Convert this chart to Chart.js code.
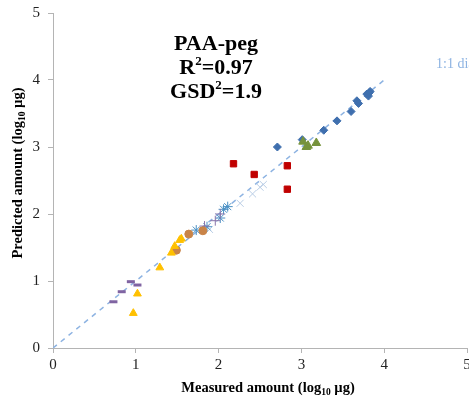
<!DOCTYPE html>
<html>
<head>
<meta charset="utf-8">
<script src="https://cdn.jsdelivr.net/npm/chart.js@4/dist/chart.umd.min.js"></script>
<style>
  html, body { margin: 0; padding: 0; background: #fff; overflow: hidden; }
  #wrap { position: relative; width: 500px; height: 403px; }
</style>
</head>
<body>
<div id="wrap"><canvas id="chart"></canvas></div>
<script>
// measured / predicted pairs (log10 µg), one pair of arrays per group
const blueDiamondX = [2.71, 3.01, 3.27, 3.43, 3.60, 3.67, 3.69, 3.79, 3.81, 3.82, 3.83];
const blueDiamondY = [3.00, 3.11, 3.25, 3.39, 3.53, 3.69, 3.65, 3.79, 3.76, 3.81, 3.83];
const greenTriX = [3.02, 3.06, 3.08, 3.18];
const greenTriY = [3.08, 3.00, 3.02, 3.06];
const redSquareX = [2.18, 2.43, 2.83, 2.83];
const redSquareY = [2.75, 2.59, 2.72, 2.37];
const paleCrossX = [1.89, 2.00, 2.26, 2.41, 2.50, 2.54];
const paleCrossY = [1.77, 1.96, 2.16, 2.30, 2.40, 2.44];
const starX = [1.73, 1.86, 2.02, 2.06, 2.11];
const starY = [1.76, 1.81, 1.94, 2.07, 2.11];
const purplePlusX = [1.83, 1.96, 2.02];
const purplePlusY = [1.82, 1.90, 2.00];
const orangeCircleX = [1.49, 1.64, 1.81];
const orangeCircleY = [1.46, 1.70, 1.75];
const yellowTriX = [0.97, 1.02, 1.29, 1.43, 1.47, 1.53, 1.55];
const yellowTriY = [0.52, 0.81, 1.20, 1.42, 1.52, 1.61, 1.63];
const purpleDashX = [0.73, 0.83, 0.94, 1.02];
const purpleDashY = [0.69, 0.84, 0.99, 0.94];
const diagonal = [0, 4];
const tickValues = [0, 1, 2, 3, 4, 5];

const pts = (xs, ys) => xs.map((x, i) => ({ x: x, y: ys[i] }));

function series(xs, ys, style, color, radius, extra) {
    return Object.assign({
        data: pts(xs, ys),
        pointStyle: style,
        pointRadius: radius,
        pointHoverRadius: radius,
        backgroundColor: color,
        borderColor: color,
        borderWidth: 1,
        showLine: false
    }, extra || {});
}

const serif = '"Liberation Serif", "DejaVu Serif", serif';

// title text, axis titles with subscripts, and the diagonal label
const annotations = {
    id: 'annotations',
    afterDraw(chart) {
        const ctx = chart.ctx;
        ctx.save();
        ctx.fillStyle = '#000';
        ctx.textBaseline = 'alphabetic';

        // text pieces, second flag = smaller raised/lowered piece
        const drawParts = (parts, cx, y, size, subSize, subShift) => {
            let total = 0;
            parts.forEach(p => {
                ctx.font = 'bold ' + (p[1] ? subSize : size) + 'px ' + serif;
                total += ctx.measureText(p[0]).width;
            });
            let x = cx - total / 2;
            ctx.textAlign = 'left';
            parts.forEach(p => {
                ctx.font = 'bold ' + (p[1] ? subSize : size) + 'px ' + serif;
                ctx.fillText(p[0], x, y + (p[1] ? subShift : 0));
                x += ctx.measureText(p[0]).width;
            });
        };
        drawParts([['PAA-peg', 0]], 216, 50, 22, 13, 0);
        drawParts([['R', 0], ['2', 1], ['=0.97', 0]], 216, 74, 22, 13, -9);
        drawParts([['GSD', 0], ['2', 1], ['=1.9', 0]], 216, 98, 22, 13, -9);

        // x axis title
        drawParts([['Measured amount (log', 0], ['10', 1], [' µg)', 0]], 268, 392, 14.5, 9.5, 3);

        // y axis title (rotated)
        ctx.save();
        ctx.translate(17, 173);
        ctx.rotate(-Math.PI / 2);
        drawParts([['Predicted amount (log', 0], ['10', 1], [' µg)', 0]], 0, 5, 14.5, 9.5, 3);
        ctx.restore();

        // diagonal label
        ctx.font = '14px ' + serif;
        ctx.fillStyle = '#8db3e2';
        ctx.textAlign = 'left';
        ctx.fillText('1:1 diagonal', 436, 68);
        ctx.restore();
    }
};

const tickStyle = {
    color: '#222',
    font: { family: serif, size: 15 },
    autoSkip: false
};

const axisGrey = '#b4b4b4';

new Chart(document.getElementById('chart'), {
    type: 'scatter',
    data: {
        datasets: [
            series(diagonal, diagonal, 'circle', '#8db3e2', 0, {
                showLine: true, borderDash: [5, 5], borderWidth: 1.5, order: 10
            }),
            series(purpleDashX, purpleDashY, 'line', '#8064a2', 4, { borderWidth: 3 }),
            series(yellowTriX, yellowTriY, 'triangle', '#ffc000', 4.5),
            series(orangeCircleX, orangeCircleY, 'circle', '#c98448', 4),
            series(purplePlusX, purplePlusY, 'cross', '#8a74aa', 5),
            series(starX, starY, 'star', '#4a90c4', 5),
            series(paleCrossX, paleCrossY, 'crossRot', '#b9cde5', 5),
            series(redSquareX, redSquareY, 'rect', '#c00000', 4.5),
            series(greenTriX, greenTriY, 'triangle', '#77933c', 5),
            series(blueDiamondX, blueDiamondY, 'rectRot', '#3f6fae', 4)
        ]
    },
    options: {
        responsive: true,
        maintainAspectRatio: false,
        animation: false,
        layout: { padding: { top: 13, right: 33, left: 0, bottom: 0 } },
        plugins: {
            legend: { display: false },
            tooltip: { enabled: false }
        },
        scales: {
            x: {
                type: 'linear',
                min: 0,
                max: 5,
                afterBuildTicks: axis => { axis.ticks = tickValues.map(v => ({ value: v })); },
                afterFit: axis => { axis.height = 55; axis.paddingLeft = 0; axis.paddingRight = 0; },
                ticks: Object.assign({ padding: 3 }, tickStyle),
                grid: { display: true, drawOnChartArea: false, drawTicks: true, tickLength: 5, color: axisGrey },
                border: { color: axisGrey, width: 1 }
            },
            y: {
                type: 'linear',
                min: 0,
                max: 5,
                afterBuildTicks: axis => { axis.ticks = tickValues.map(v => ({ value: v })); },
                afterFit: axis => { axis.width = 53; axis.paddingTop = 0; axis.paddingBottom = 0; },
                ticks: Object.assign({ padding: 8 }, tickStyle),
                grid: { display: true, drawOnChartArea: false, drawTicks: true, tickLength: 5, color: axisGrey },
                border: { color: axisGrey, width: 1 }
            }
        }
    },
    plugins: [annotations]
});
</script>
</body>
</html>
